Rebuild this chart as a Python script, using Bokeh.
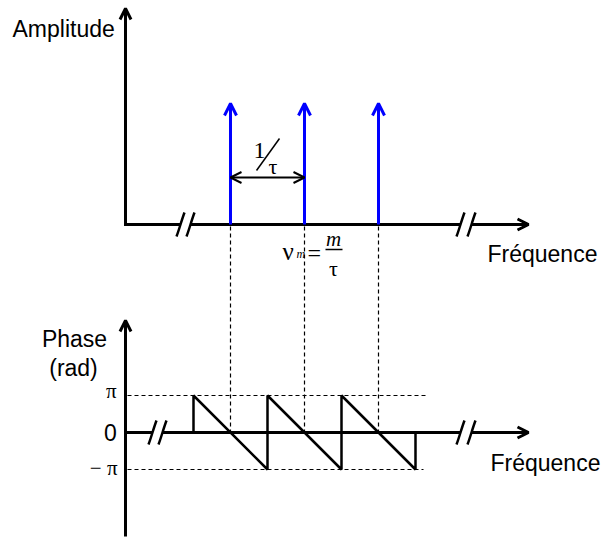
import math
from bokeh.plotting import figure
from bokeh.models import Range1d, ColumnDataSource, Arrow, OpenHead
from bokeh.core.properties import value
from bokeh.embed import file_html
from bokeh.resources import INLINE

# ---- data (frequency in units of 1/tau) ----
freq_lines = [-1, 0, 1]
amplitudes = [1, 1, 1]
phase_nu = [-1.5, -1.5, -0.5, -0.5, 0.5, 0.5, 1.5, 1.5]
phase_val = [0, math.pi, -math.pi, math.pi, -math.pi, math.pi, -math.pi, 0]
phase_ticks = [math.pi, 0, -math.pi]
phase_tick_labels = ["π", "0", "− π"]

SANS = value("Liberation Sans")
SERIF = value("Liberation Serif")

p = figure(width=605, height=538, output_backend="svg", toolbar_location=None,
           x_range=Range1d(-4.1081, 4.0676), y_range=Range1d(-2.595, 1.8512),
           x_axis_location=None, y_axis_location=None, min_border=0,
           outline_line_color=None)
p.grid.visible = False
p.extra_y_ranges = {"phase": Range1d(-9.0003, 36.68), "py": Range1d(538, 0)}
p.extra_x_ranges = {"px": Range1d(0, 605)}

K = dict(x_range_name="px", y_range_name="py")

# ---- dashed guides ----
p.segment(x0=freq_lines, x1=freq_lines, y0=[226] * 3, y1=[432] * 3,
          y_range_name="py", line_color="black", line_width=1.2, line_dash="4 3")
p.segment(x0=[127, 127], x1=[427, 423], y0=[math.pi, -math.pi], y1=[math.pi, -math.pi],
          x_range_name="px", y_range_name="phase",
          line_color="black", line_width=1.2, line_dash="4 3")

# ---- amplitude spectrum (blue arrows) ----
src = ColumnDataSource(dict(x=freq_lines, y0=[0] * 3, y1=amplitudes))
p.add_layout(Arrow(source=src, x_start="x", y_start="y0", x_end="x", y_end="y1",
                   line_color="#0000FF", line_width=3,
                   end=OpenHead(size=12, line_width=3, line_color="#0000FF")))

# ---- phase sawtooth ----
p.line(phase_nu, phase_val, y_range_name="phase", line_color="black", line_width=2.5)

# ---- axes ----
p.add_layout(Arrow(x_start=125, y_start=225.5, x_end=125, y_end=8, line_width=3,
                   end=OpenHead(size=11, line_width=3), **K))
p.segment(x0=[124, 190], x1=[180, 460], y0=[224, 224], y1=[224, 224],
          line_color="black", line_width=3, **K)
p.add_layout(Arrow(x_start=471, y_start=224, x_end=528, y_end=224, line_width=3,
                   end=OpenHead(size=11, line_width=3), **K))
p.add_layout(Arrow(x_start=125, y_start=536, x_end=125, y_end=320, line_width=3,
                   end=OpenHead(size=11, line_width=3), **K))
p.segment(x0=[124, 162], x1=[152, 460], y0=[432, 432], y1=[432, 432],
          line_color="black", line_width=3, **K)
p.add_layout(Arrow(x_start=471, y_start=432, x_end=528, y_end=432, line_width=3,
                   end=OpenHead(size=11, line_width=3), **K))

# break marks
bx = [180, 190, 460, 471, 152, 162, 460, 471]
by = [224, 224, 224, 224, 432, 432, 432, 432]
p.bezier(x0=[x - 4 for x in bx], y0=[y + 12 for y in by],
         x1=[x + 4 for x in bx], y1=[y - 12 for y in by],
         cx0=[x - 1 for x in bx], cy0=[y + 4 for y in by],
         cx1=[x + 1 for x in bx], cy1=[y - 4 for y in by],
         line_color="black", line_width=2.5, **K)

# ---- 1/tau spacing arrow ----
p.add_layout(Arrow(x_start=freq_lines[0], y_start=177, x_end=freq_lines[1], y_end=177,
                   y_range_name="py", line_width=2,
                   start=OpenHead(size=11, line_width=2),
                   end=OpenHead(size=11, line_width=2)))
p.text(x=[253], y=[150], text=["1"], text_font=SERIF, text_font_size="24px",
       text_baseline="alphabetic", text_align="left", **K)
p.segment(x0=[279], y0=[138], x1=[256], y1=[170], line_color="black", line_width=1.5, **K)
p.text(x=[268], y=[166], text=["τ"], text_font=SERIF, text_font_size="22px",
       text_baseline="alphabetic", text_align="left", **K)

# ---- nu_m = m / tau ----
p.text(x=[282], y=[251], text=["ν"], text_font=SERIF, text_font_size="25px",
       text_baseline="alphabetic", text_align="left", **K)
p.text(x=[296], y=[253], text=["m"], text_font=SERIF, text_font_size="12px",
       text_font_style="italic", text_baseline="alphabetic", text_align="left", **K)
p.text(x=[307], y=[252], text=["="], text_font=SERIF, text_font_size="24px",
       text_baseline="alphabetic", text_align="left", **K)
p.text(x=[333], y=[238], text=["m"], text_font=SERIF, text_font_size="21px",
       text_font_style="italic", text_baseline="alphabetic", text_align="center", **K)
p.segment(x0=[325], y0=[249], x1=[342], y1=[249], line_color="black", line_width=1.5, **K)
p.text(x=[333], y=[268], text=["τ"], text_font=SERIF, text_font_size="22px",
       text_baseline="alphabetic", text_align="center", **K)

# ---- axis titles ----
p.text(x=[12], y=[28], text=["Amplitude"], text_font=SANS, text_font_size="23px",
       text_baseline="alphabetic", text_align="left", **K)
p.text(x=[487, 490], y=[253, 462], text=["Fréquence", "Fréquence"], text_font=SANS,
       text_font_size="23px", text_baseline="alphabetic", text_align="left", **K)
p.text(x=[74, 73], y=[338, 367], text=["Phase", "(rad)"], text_font=SANS,
       text_font_size="23px", text_baseline="alphabetic", text_align="center", **K)

# ---- phase tick labels ----
p.text(x=[116], y=[phase_ticks[0]], text=[phase_tick_labels[0]], text_font=SERIF,
       text_font_size="21px", text_baseline="middle", text_align="right",
       x_range_name="px", y_range_name="phase", y_offset=-4)
p.text(x=[110], y=[phase_ticks[1]], text=[phase_tick_labels[1]], text_font=SANS,
       text_font_size="23px", text_baseline="middle", text_align="center",
       x_range_name="px", y_range_name="phase")
p.text(x=[117], y=[phase_ticks[2]], text=[phase_tick_labels[2]], text_font=SERIF,
       text_font_size="21px", text_baseline="middle", text_align="right",
       x_range_name="px", y_range_name="phase", y_offset=-1)

open("out.html", "w").write(file_html(p, INLINE))
